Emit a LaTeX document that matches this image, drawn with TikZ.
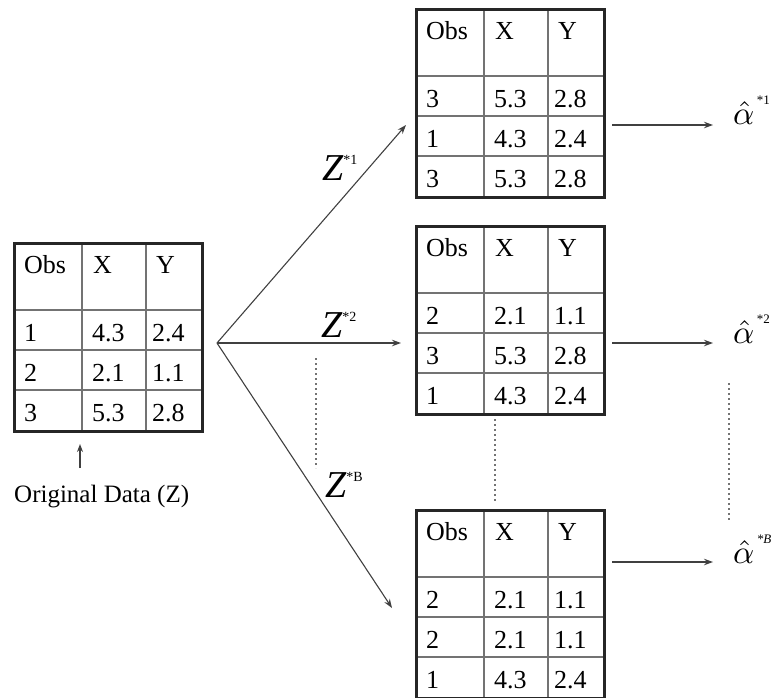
\documentclass[tikz,border=0pt]{standalone}
\usepackage{fontspec}
\usepackage{graphicx}
\setmainfont{Liberation Serif}
\usetikzlibrary{arrows.meta}
\tikzset{
  tblframe/.style={draw=black!85, line width=2.6pt, minimum width=188pt, minimum height=188pt, inner sep=0pt, anchor=north west},
  tblline/.style={draw=black!55, line width=1.3pt},
  cell/.style={anchor=base west, inner sep=0pt, font=\fontsize{26}{26}\selectfont},
  conn/.style={draw=black!75, line width=1.1pt, -{Stealth[length=9pt,width=6.5pt]}},
  dots/.style={draw=black!55, line width=1.7pt, dash pattern=on 1.7pt off 3.3pt},
  zlab/.style={anchor=base west, inner sep=0pt, font=\fontsize{38}{38}\selectfont},
  alab/.style={anchor=base west, inner sep=0pt, font=\normalsize},
  caption/.style={anchor=base west, inner sep=0pt, font=\fontsize{25}{25}\selectfont},
}
\newcommand\mytable[4]{%
  \draw[tblline] (#2+69,#3) -- (#2+69,#3-188);
  \draw[tblline] (#2+133,#3) -- (#2+133,#3-188);
  \draw[tblline] (#2,#3-68) -- (#2+188,#3-68);
  \draw[tblline] (#2,#3-108) -- (#2+188,#3-108);
  \draw[tblline] (#2,#3-148) -- (#2+188,#3-148);
  \node[tblframe] (#1) at (#2,#3) {};
  \node[cell] (#1-h1) at (#2+11,#3-31) {Obs};
  \node[cell] (#1-h2) at (#2+80,#3-31) {X};
  \node[cell] (#1-h3) at (#2+143,#3-31) {Y};
  \foreach \a/\b/\c [count=\i] in {#4} {
    \node[cell] (#1-r\i a) at (#2+11,#3-68-40*\i+40-31) {\a};
    \node[cell] (#1-r\i b) at (#2+79,#3-68-40*\i+40-31) {\b};
    \node[cell] (#1-r\i c) at (#2+139,#3-68-40*\i+40-31) {\c};
  }
}
\newcommand\zsup[1]{\raisebox{16pt}{\fontsize{14}{14}\selectfont\upshape #1}}
\newcommand\ahat{\scalebox{3.3}{$\hat{\alpha}$}}
\newcommand\asup[1]{\kern2.5pt\raisebox{20pt}{\fontsize{13}{13}\selectfont #1}}
\begin{document}
\begin{tikzpicture}[x=1pt,y=1pt]
  \useasboundingbox (0,0) rectangle (775,-697);
  % tables
  \mytable{t0}{13}{-242}{1/4.3/2.4,2/2.1/1.1,3/5.3/2.8}
  \mytable{t1}{415}{-8}{3/5.3/2.8,1/4.3/2.4,3/5.3/2.8}
  \mytable{t2}{415}{-225}{2/2.1/1.1,3/5.3/2.8,1/4.3/2.4}
  \mytable{t3}{415}{-509}{2/2.1/1.1,2/2.1/1.1,1/4.3/2.4}
  % original data label
  \node[caption] (orig) at (14,-502) {Original Data (Z)};
  \coordinate (upbase) at (80,-468);
  \draw[conn, -{Stealth[length=8pt,width=6pt]}] (upbase) -- (80,-444) coordinate (uptip);
  % fan of arrows
  \coordinate (fan) at (217,-343);
  \coordinate (e1) at (406,-125);
  \coordinate (e2) at (401,-343);
  \coordinate (e3) at (392,-608);
  \draw[conn] (fan) -- (e1);
  \draw[conn] (fan) -- (e2);
  \draw[conn] (fan) -- (e3);
  % Z labels
  \node[zlab] (z1) at (322,-180) {\itshape Z\zsup{*1}};
  \node[zlab] (z2) at (321,-337) {\itshape Z\zsup{*2}};
  \node[zlab] (zb) at (325,-497) {\itshape Z\zsup{*B}};
  % dotted lines
  \draw[dots] (316,-358) -- (316,-468);
  \draw[dots] (495,-419) -- (495,-503);
  \draw[dots] (729,-383) -- (729,-522);
  % estimates
  \node[alab] (a1) at (733,-124) {\ahat\asup{*1}};
  \node[alab] (a2) at (733,-343) {\ahat\asup{*2}};
  \node[alab] (ab) at (733,-563) {\ahat\asup{\itshape *B}};
  \coordinate (s1) at (612,-125);
  \coordinate (s2) at (612,-343);
  \coordinate (s3) at (612,-562);
  \draw[conn] (s1) -- (713,-125);
  \draw[conn] (s2) -- (713,-343);
  \draw[conn] (s3) -- (713,-562);
\end{tikzpicture}
\end{document}
